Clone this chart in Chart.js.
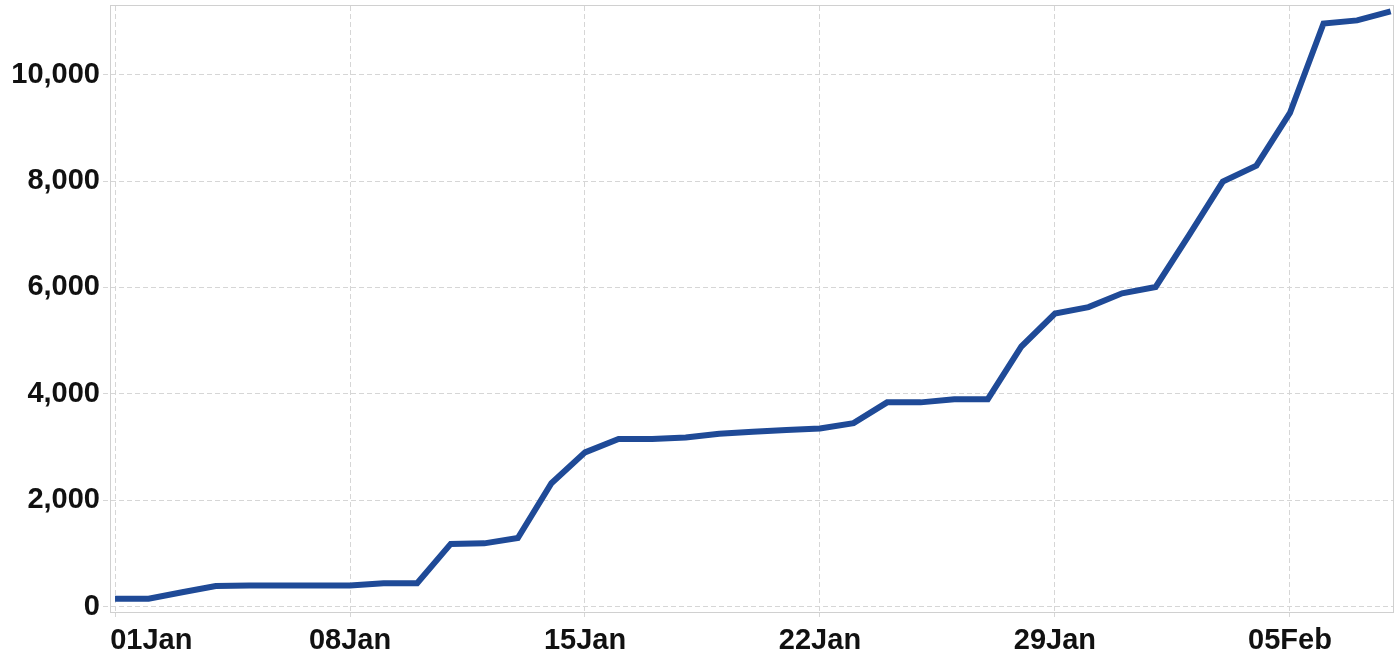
<!DOCTYPE html>
<html>
<head>
<meta charset="utf-8">
<script src="https://cdn.jsdelivr.net/npm/chart.js@4/dist/chart.umd.min.js"></script>
<style>
  html, body { margin: 0; padding: 0; background: #fff; }
  #cumChart { display: block; }
</style>
</head>
<body>
<canvas id="cumChart" width="1400" height="657"></canvas>
<script>
// Day labels (01Jan .. 08Feb)
const dates = [
  "01Jan", "02Jan", "03Jan", "04Jan", "05Jan", "06Jan", "07Jan", "08Jan",
  "09Jan", "10Jan", "11Jan", "12Jan", "13Jan", "14Jan", "15Jan", "16Jan",
  "17Jan", "18Jan", "19Jan", "20Jan", "21Jan", "22Jan", "23Jan", "24Jan",
  "25Jan", "26Jan", "27Jan", "28Jan", "29Jan", "30Jan", "31Jan", "01Feb",
  "02Feb", "03Feb", "04Feb", "05Feb", "06Feb", "07Feb", "08Feb"
];

// Cumulative totals, one per day
const totals = [
  150, 150, 270, 390, 400, 400, 400, 400,
  440, 440, 1180, 1190, 1290, 2320, 2900, 3150,
  3150, 3180, 3250, 3290, 3320, 3350, 3450, 3840,
  3840, 3900, 3900, 4890, 5510, 5630, 5890, 6010,
  6990, 7990, 8290, 9280, 10960, 11020, 11190
];

// Weekly ticks on x (index into dates), value ticks on y
const xTickDays = [0, 7, 14, 21, 28, 35];
const yTicks = [0, 2000, 4000, 6000, 8000, 10000];

(function () {
  "use strict";

  const tickFont = { family: "'Liberation Sans', Arial, sans-serif", size: 29, weight: "bold" };
  const gridColor = "#d6d6d6";
  const dash = [5, 3];

  // thin grey box round the plot area
  const frame = {
    id: "frame",
    afterDraw(chart) {
      const a = chart.chartArea;
      const ctx = chart.ctx;
      ctx.save();
      ctx.strokeStyle = "#d0d0d0";
      ctx.lineWidth = 1;
      ctx.strokeRect(a.left - 0.5, a.top - 0.5, a.right - a.left + 1, a.bottom - a.top + 1);
      ctx.restore();
    }
  };

  new Chart(document.getElementById("cumChart"), {
    type: "line",
    data: {
      datasets: [
        {
          data: totals.map((v, i) => ({ x: i, y: v })),
          borderColor: "#1f4a97",
          borderWidth: 6,
          pointRadius: 0,
          tension: 0,
          fill: false
        }
      ]
    },
    options: {
      responsive: false,
      animation: false,
      devicePixelRatio: 1,
      layout: { padding: { top: 6, right: 7, left: 0, bottom: 0 } },
      plugins: {
        legend: { display: false },
        tooltip: { enabled: false }
      },
      scales: {
        x: {
          type: "linear",
          min: -0.12,
          max: 38.07,
          afterFit(scale) {
            scale.height = 45;
            scale.paddingLeft = 0;
            scale.paddingRight = 0;
          },
          afterBuildTicks(scale) {
            scale.ticks = xTickDays.map(v => ({ value: v }));
          },
          border: { display: false, dash: dash },
          grid: {
            color: gridColor,
            tickBorderDash: dash,
            tickLength: 8
          },
          ticks: {
            font: tickFont,
            color: "#111",
            padding: 4,
            maxRotation: 0,
            autoSkip: false,
            // first label sits to the right of its line, like the original
            callback: (v) => (v === 0 ? "         " + dates[v] : dates[v])
          }
        },
        y: {
          min: -100,
          max: 11290,
          afterFit(scale) {
            scale.width = 111;
            scale.paddingTop = 0;
            scale.paddingBottom = 0;
          },
          afterBuildTicks(scale) {
            scale.ticks = yTicks.map(v => ({ value: v }));
          },
          border: { display: false, dash: dash },
          grid: {
            color: gridColor,
            tickBorderDash: dash,
            tickLength: 8
          },
          ticks: {
            font: tickFont,
            color: "#111",
            padding: 3,
            callback: (v) => v.toLocaleString("en-US")
          }
        }
      }
    },
    plugins: [frame]
  });
})();
</script>
</body>
</html>
